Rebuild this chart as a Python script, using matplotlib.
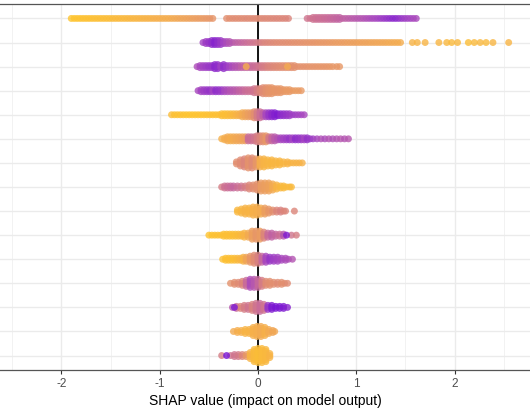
import matplotlib
matplotlib.use("Agg")
import matplotlib.pyplot as plt
import numpy as np
from matplotlib.colors import LinearSegmentedColormap

# one tuple per point group: (SHAP value, scaled feature value 0=low..1=high, overlapping points)
row_01 = [(-1.90, 0.02, 1), (-1.87, 0.02, 1), (-1.84, 0.03, 1), (-1.81, 0.03, 1), (-1.78, 0.04, 1),
          (-1.75, 0.04, 1), (-1.72, 0.05, 1), (-1.69, 0.05, 1), (-1.66, 0.06, 1), (-1.63, 0.06, 1),
          (-1.60, 0.07, 1), (-1.57, 0.07, 1), (-1.54, 0.08, 1), (-1.51, 0.08, 1), (-1.48, 0.09, 1),
          (-1.45, 0.10, 1), (-1.42, 0.10, 1), (-1.39, 0.11, 1), (-1.36, 0.11, 1), (-1.33, 0.12, 1),
          (-1.30, 0.13, 1), (-1.27, 0.13, 1), (-1.24, 0.14, 1), (-1.21, 0.15, 1), (-1.18, 0.15, 1),
          (-1.15, 0.16, 1), (-1.12, 0.17, 1), (-1.09, 0.17, 1), (-1.06, 0.18, 1), (-1.03, 0.19, 1),
          (-1.00, 0.19, 1), (-0.97, 0.20, 1), (-0.94, 0.21, 1), (-0.91, 0.21, 1), (-0.88, 0.22, 1),
          (-0.85, 0.23, 1), (-0.82, 0.24, 1), (-0.79, 0.25, 1), (-0.76, 0.26, 1), (-0.73, 0.27, 1),
          (-0.70, 0.28, 1), (-0.67, 0.29, 1), (-0.64, 0.30, 1), (-0.61, 0.31, 1), (-0.58, 0.32, 1),
          (-0.55, 0.33, 1), (-0.52, 0.34, 1), (-0.49, 0.35, 1), (-0.46, 0.36, 1),
          (-0.32, 0.40, 1), (-0.29, 0.40, 1), (-0.26, 0.41, 1), (-0.23, 0.42, 1), (-0.20, 0.41, 1),
          (-0.17, 0.42, 1), (-0.14, 0.42, 1), (-0.11, 0.43, 1), (-0.08, 0.42, 1), (-0.05, 0.43, 1),
          (-0.02, 0.43, 1), (0.01, 0.42, 1), (0.04, 0.43, 1), (0.07, 0.44, 1), (0.10, 0.43, 1),
          (0.13, 0.44, 1), (0.16, 0.44, 1), (0.19, 0.45, 1), (0.22, 0.44, 1), (0.25, 0.45, 1),
          (0.28, 0.45, 1), (0.31, 0.46, 1),
          (0.50, 0.55, 1), (0.53, 0.55, 1), (0.56, 0.56, 2), (0.59, 0.57, 2), (0.62, 0.58, 2),
          (0.65, 0.58, 2), (0.68, 0.59, 2), (0.71, 0.60, 2), (0.74, 0.61, 2), (0.77, 0.62, 2),
          (0.80, 0.63, 2), (0.83, 0.64, 2), (0.86, 0.65, 1), (0.89, 0.66, 1), (0.92, 0.67, 1),
          (0.95, 0.68, 1), (0.98, 0.69, 1), (1.01, 0.70, 1), (1.04, 0.71, 1), (1.07, 0.72, 1),
          (1.10, 0.74, 1), (1.13, 0.75, 1), (1.16, 0.77, 1), (1.19, 0.78, 1), (1.22, 0.80, 1),
          (1.25, 0.82, 1), (1.28, 0.84, 1), (1.31, 0.86, 1), (1.34, 0.88, 1), (1.37, 0.90, 1),
          (1.40, 0.91, 1), (1.43, 0.88, 1), (1.46, 0.85, 1), (1.49, 0.83, 1), (1.52, 0.81, 1),
          (1.55, 0.80, 1), (1.58, 0.78, 1), (1.61, 0.77, 1)]
row_02 = [(-0.56, 0.80, 1), (-0.53, 0.82, 2), (-0.50, 0.85, 2), (-0.47, 0.88, 3), (-0.44, 0.92, 3),
          (-0.41, 0.88, 3), (-0.38, 0.84, 3), (-0.35, 0.80, 2), (-0.32, 0.76, 2), (-0.29, 0.72, 2),
          (-0.26, 0.70, 1), (-0.23, 0.67, 1), (-0.20, 0.65, 1), (-0.17, 0.63, 1), (-0.14, 0.61, 1),
          (-0.11, 0.59, 1), (-0.08, 0.57, 1), (-0.05, 0.55, 1), (-0.02, 0.53, 1), (0.01, 0.50, 1),
          (0.04, 0.48, 1), (0.07, 0.46, 1), (0.10, 0.45, 1), (0.13, 0.44, 1), (0.16, 0.43, 1),
          (0.19, 0.42, 1), (0.22, 0.42, 1), (0.25, 0.41, 1), (0.28, 0.41, 1), (0.31, 0.40, 1),
          (0.34, 0.40, 1), (0.37, 0.39, 1), (0.40, 0.39, 1), (0.43, 0.38, 1), (0.46, 0.38, 1),
          (0.49, 0.37, 1), (0.52, 0.37, 1), (0.55, 0.36, 1), (0.58, 0.36, 1), (0.61, 0.35, 1),
          (0.64, 0.35, 1), (0.67, 0.34, 1), (0.70, 0.34, 1), (0.73, 0.33, 1), (0.76, 0.33, 1),
          (0.79, 0.32, 1), (0.82, 0.32, 1), (0.85, 0.31, 1), (0.88, 0.31, 1), (0.91, 0.30, 1),
          (0.94, 0.30, 1), (0.97, 0.29, 1), (1.00, 0.29, 1), (1.03, 0.28, 1), (1.06, 0.28, 1),
          (1.09, 0.27, 1), (1.12, 0.27, 1), (1.15, 0.26, 1), (1.18, 0.26, 1), (1.21, 0.25, 1),
          (1.24, 0.25, 1), (1.27, 0.24, 1), (1.30, 0.24, 1), (1.33, 0.23, 1), (1.36, 0.23, 1),
          (1.39, 0.22, 1), (1.42, 0.22, 1), (1.45, 0.21, 1),
          (1.57, 0.16, 1), (1.62, 0.15, 1), (1.70, 0.15, 1), (1.84, 0.14, 1), (1.92, 0.12, 1),
          (1.97, 0.10, 1), (2.03, 0.12, 1), (2.14, 0.08, 1), (2.20, 0.10, 1), (2.26, 0.12, 1),
          (2.32, 0.10, 1), (2.39, 0.14, 1), (2.55, 0.15, 1)]
row_03 = [(-0.62, 0.75, 1), (-0.59, 0.78, 2), (-0.56, 0.80, 2), (-0.53, 0.82, 2), (-0.50, 0.84, 2),
          (-0.47, 0.85, 2), (-0.44, 0.90, 3), (-0.41, 0.88, 3), (-0.38, 0.82, 2), (-0.35, 0.88, 3),
          (-0.32, 0.84, 2), (-0.29, 0.80, 2), (-0.26, 0.76, 2), (-0.23, 0.72, 2), (-0.20, 0.70, 2),
          (-0.17, 0.66, 2), (-0.14, 0.64, 2), (-0.11, 0.62, 2), (-0.08, 0.62, 2), (-0.05, 0.60, 2),
          (-0.02, 0.58, 2), (0.01, 0.55, 2), (0.04, 0.52, 2), (0.07, 0.50, 2), (0.10, 0.47, 2),
          (0.13, 0.46, 2), (0.16, 0.44, 2), (0.19, 0.43, 2), (0.22, 0.42, 2), (0.25, 0.41, 2),
          (0.28, 0.40, 2), (0.31, 0.40, 2), (0.34, 0.40, 2), (0.37, 0.39, 2), (0.40, 0.39, 1),
          (0.43, 0.38, 1), (0.46, 0.38, 1), (0.49, 0.38, 1), (0.52, 0.37, 1), (0.55, 0.37, 1),
          (0.58, 0.37, 1), (0.61, 0.36, 1), (0.64, 0.36, 1), (0.67, 0.36, 1), (0.70, 0.36, 1),
          (0.73, 0.35, 1), (0.76, 0.35, 1), (0.80, 0.35, 1), (0.83, 0.34, 1),
          (-0.12, 0.20, 1), (0.30, 0.22, 1)]
row_04 = [(-0.61, 0.78, 1), (-0.58, 0.80, 2), (-0.55, 0.82, 2), (-0.52, 0.84, 2), (-0.49, 0.86, 2),
          (-0.46, 0.80, 2), (-0.43, 0.88, 2), (-0.40, 0.86, 2), (-0.37, 0.84, 2), (-0.34, 0.78, 2),
          (-0.31, 0.75, 2), (-0.28, 0.72, 2), (-0.25, 0.70, 2), (-0.22, 0.68, 2), (-0.19, 0.65, 2),
          (-0.16, 0.63, 2), (-0.13, 0.60, 2), (-0.10, 0.58, 2), (-0.07, 0.57, 2), (-0.04, 0.55, 3),
          (-0.01, 0.50, 3), (0.02, 0.46, 3), (0.05, 0.42, 4), (0.08, 0.39, 4), (0.11, 0.37, 4),
          (0.14, 0.36, 4), (0.17, 0.35, 3), (0.20, 0.36, 3), (0.23, 0.35, 3), (0.26, 0.34, 2),
          (0.29, 0.33, 2), (0.32, 0.33, 2), (0.35, 0.33, 1), (0.38, 0.32, 1), (0.41, 0.32, 1),
          (0.44, 0.33, 1)]
row_05 = [(-0.88, 0.08, 1), (-0.85, 0.05, 1), (-0.82, 0.04, 1), (-0.79, 0.04, 1), (-0.76, 0.03, 1),
          (-0.73, 0.02, 1), (-0.70, 0.02, 1), (-0.67, 0.02, 1), (-0.64, 0.02, 1), (-0.61, 0.03, 1),
          (-0.58, 0.03, 1), (-0.55, 0.03, 1), (-0.52, 0.04, 1), (-0.49, 0.04, 1), (-0.46, 0.05, 1),
          (-0.43, 0.05, 1), (-0.40, 0.06, 1), (-0.37, 0.07, 2), (-0.34, 0.07, 2), (-0.31, 0.08, 2),
          (-0.28, 0.10, 2), (-0.25, 0.12, 2), (-0.22, 0.15, 2), (-0.19, 0.18, 2), (-0.16, 0.22, 3),
          (-0.13, 0.26, 3), (-0.10, 0.30, 3), (-0.07, 0.33, 3), (-0.04, 0.40, 4), (-0.01, 0.50, 4),
          (0.02, 0.58, 4), (0.05, 0.65, 3), (0.08, 0.78, 3), (0.11, 0.85, 3), (0.14, 0.90, 3),
          (0.17, 0.93, 3), (0.20, 0.95, 2), (0.23, 0.90, 2), (0.26, 0.88, 2), (0.29, 0.86, 2),
          (0.32, 0.84, 2), (0.35, 0.82, 1), (0.38, 0.82, 1), (0.41, 0.80, 1), (0.44, 0.80, 1),
          (0.47, 0.78, 1)]
row_06 = [(-0.37, 0.18, 1), (-0.34, 0.20, 2), (-0.31, 0.22, 3), (-0.28, 0.20, 3), (-0.25, 0.22, 3),
          (-0.22, 0.24, 3), (-0.19, 0.25, 3), (-0.16, 0.27, 3), (-0.13, 0.30, 3), (-0.10, 0.60, 3),
          (-0.07, 0.58, 3), (-0.04, 0.55, 3), (-0.01, 0.50, 4), (0.02, 0.46, 4), (0.05, 0.40, 4),
          (0.08, 0.35, 4), (0.11, 0.52, 3), (0.14, 0.62, 3), (0.17, 0.68, 3), (0.20, 0.72, 2),
          (0.23, 0.78, 2), (0.26, 0.80, 2), (0.29, 0.82, 2), (0.32, 0.85, 2), (0.35, 0.80, 2),
          (0.38, 0.88, 2), (0.41, 0.86, 2), (0.44, 0.84, 2), (0.47, 0.80, 2), (0.50, 0.86, 2),
          (0.53, 0.84, 1), (0.56, 0.82, 1), (0.60, 0.78, 1), (0.64, 0.74, 1), (0.68, 0.76, 1),
          (0.72, 0.72, 1), (0.76, 0.74, 1), (0.80, 0.72, 1), (0.84, 0.70, 1), (0.88, 0.72, 1),
          (0.92, 0.70, 1)]
row_07 = [(-0.22, 0.40, 2), (-0.18, 0.42, 4), (-0.14, 0.45, 5), (-0.10, 0.38, 6), (-0.06, 0.42, 6),
          (-0.02, 0.35, 5), (0.02, 0.20, 5), (0.06, 0.15, 5), (0.10, 0.14, 4), (0.14, 0.13, 4),
          (0.18, 0.14, 3), (0.22, 0.13, 3), (0.26, 0.14, 2), (0.30, 0.15, 2), (0.33, 0.15, 1),
          (0.36, 0.16, 1), (0.39, 0.16, 1), (0.42, 0.16, 1), (0.45, 0.17, 1)]
row_08 = [(-0.37, 0.50, 1), (-0.34, 0.56, 2), (-0.31, 0.58, 2), (-0.28, 0.60, 2), (-0.25, 0.62, 2),
          (-0.21, 0.58, 2), (-0.17, 0.55, 2), (-0.13, 0.50, 2), (-0.09, 0.45, 3), (-0.05, 0.40, 3),
          (-0.01, 0.38, 4), (0.03, 0.32, 5), (0.07, 0.30, 5), (0.11, 0.28, 5), (0.15, 0.22, 4),
          (0.19, 0.15, 3), (0.23, 0.12, 2), (0.26, 0.10, 2), (0.29, 0.10, 1), (0.32, 0.10, 1),
          (0.34, 0.10, 1)]
row_09 = [(-0.21, 0.12, 2), (-0.17, 0.14, 3), (-0.13, 0.16, 4), (-0.09, 0.15, 4), (-0.05, 0.18, 5),
          (-0.01, 0.20, 5), (0.03, 0.22, 4), (0.07, 0.30, 4), (0.11, 0.35, 3), (0.15, 0.40, 2),
          (0.19, 0.45, 2), (0.23, 0.48, 2), (0.26, 0.45, 1), (0.28, 0.45, 1), (0.37, 0.45, 1)]
row_10 = [(-0.50, 0.03, 1), (-0.47, 0.03, 1), (-0.44, 0.04, 1), (-0.41, 0.04, 1), (-0.38, 0.05, 1),
          (-0.35, 0.05, 2), (-0.32, 0.06, 2), (-0.29, 0.06, 2), (-0.26, 0.07, 2), (-0.23, 0.08, 2),
          (-0.20, 0.09, 2), (-0.17, 0.12, 2), (-0.14, 0.15, 3), (-0.10, 0.22, 3), (-0.06, 0.30, 5),
          (-0.02, 0.35, 5), (0.02, 0.32, 5), (0.06, 0.45, 4), (0.10, 0.60, 3), (0.14, 0.65, 3),
          (0.18, 0.62, 2), (0.22, 0.58, 2), (0.26, 0.70, 2), (0.34, 0.55, 1), (0.39, 0.50, 1),
          (0.29, 0.95, 1)]
row_11 = [(-0.36, 0.05, 1), (-0.33, 0.05, 2), (-0.30, 0.06, 2), (-0.27, 0.06, 2), (-0.24, 0.07, 2),
          (-0.21, 0.10, 2), (-0.18, 0.13, 2), (-0.15, 0.16, 3), (-0.12, 0.25, 3), (-0.08, 0.35, 4),
          (-0.04, 0.42, 5), (0.00, 0.48, 5), (0.04, 0.62, 4), (0.08, 0.78, 4), (0.12, 0.85, 3),
          (0.16, 0.82, 3), (0.20, 0.80, 3), (0.24, 0.78, 2), (0.28, 0.76, 2), (0.31, 0.75, 1),
          (0.35, 0.72, 1)]
row_12 = [(-0.28, 0.38, 1), (-0.24, 0.40, 2), (-0.20, 0.42, 2), (-0.16, 0.45, 3), (-0.12, 0.60, 4),
          (-0.08, 0.75, 5), (-0.04, 0.70, 5), (0.00, 0.62, 5), (0.04, 0.50, 4), (0.08, 0.42, 3),
          (0.12, 0.40, 3), (0.16, 0.40, 2), (0.20, 0.42, 2), (0.24, 0.40, 2), (0.27, 0.40, 1),
          (0.30, 0.42, 1)]
row_13 = [(-0.26, 0.70, 1), (-0.22, 0.60, 2), (-0.18, 0.45, 2), (-0.14, 0.50, 3), (-0.10, 0.55, 3),
          (-0.06, 0.48, 4), (-0.02, 0.55, 5), (0.02, 0.60, 5), (0.06, 0.55, 4), (0.10, 0.85, 3),
          (0.14, 0.95, 3), (0.18, 0.98, 2), (0.22, 0.97, 2), (0.26, 0.95, 2), (0.30, 0.92, 1),
          (-0.24, 0.95, 1)]
row_14 = [(-0.25, 0.22, 1), (-0.21, 0.20, 2), (-0.17, 0.18, 2), (-0.13, 0.15, 3), (-0.09, 0.16, 3),
          (-0.05, 0.18, 5), (-0.01, 0.20, 6), (0.03, 0.22, 6), (0.07, 0.18, 5), (0.11, 0.22, 3),
          (0.15, 0.25, 2), (0.17, 0.24, 1)]
row_15 = [(-0.37, 0.50, 1), (-0.28, 0.55, 1), (-0.24, 0.55, 2), (-0.20, 0.52, 2), (-0.16, 0.45, 2),
          (-0.12, 0.35, 2), (-0.08, 0.15, 4), (-0.04, 0.10, 7), (0.00, 0.08, 8), (0.04, 0.10, 8),
          (0.08, 0.12, 7), (0.12, 0.15, 3), (-0.32, 0.98, 1)]

rows = [row_01, row_02, row_03, row_04, row_05, row_06, row_07, row_08,
        row_09, row_10, row_11, row_12, row_13, row_14, row_15]

x_ticks = [-2, -1, 0, 1, 2]
x_tick_labels = ["-2", "-1", "0", "1", "2"]

plt.rcParams['font.family'] = ['Liberation Sans', 'DejaVu Sans']

cmap = LinearSegmentedColormap.from_list(
    "shap", [(0.0, "#FFC62A"), (0.2, "#F5AE4E"), (0.4, "#E28F70"),
             (0.6, "#C96C99"), (0.8, "#A444C2"), (1.0, "#7410D6")])


def sina_offsets(n, step=0.042, cap=0.4):
    """vertical spread for n overlapping points, wider where the data is denser"""
    if n <= 1:
        return np.zeros(1)
    w = min(cap, step * (n - 1))
    return np.linspace(-w, w, n)


xs, ys, cs = [], [], []
for k, row in enumerate(rows):
    y0 = len(rows) - k
    for x, c, n in row:
        for off in sina_offsets(n):
            xs.append(x)
            ys.append(y0 + off)
            cs.append(c)

fig = plt.figure(figsize=(5.3, 4.16), dpi=100)
ax = fig.add_axes([0, 0.1106, 1, 0.8798])

ax.axvline(0, color='black', lw=1.3, zorder=2)
ax.scatter(xs, ys, c=cs, cmap=cmap, vmin=0, vmax=1, s=25, alpha=0.8,
           linewidths=0, zorder=3)

ax.set_xlim(-2.625, 2.767)
ax.set_ylim(0.4, 15.6)
ax.set_xticks(x_ticks)
ax.set_xticklabels(x_tick_labels)
ax.set_xticks([-2.5, -1.5, -0.5, 0.5, 1.5, 2.5], minor=True)
ax.set_yticks(range(1, 16))
ax.set_yticklabels([])
ax.tick_params(axis='y', length=0)
ax.tick_params(axis='x', which='major', length=3, color='#333333',
               labelcolor='#4D4D4D', labelsize=8.5, pad=3)
ax.tick_params(axis='x', which='minor', length=0)
ax.grid(which='major', color='#EBEBEB', lw=1.0, zorder=0)
ax.grid(which='minor', axis='x', color='#F0F0F0', lw=0.6, zorder=0)
ax.set_axisbelow(True)

for side in ['left', 'right']:
    ax.spines[side].set_visible(False)
for side in ['top', 'bottom']:
    ax.spines[side].set_color('#555555')
    ax.spines[side].set_linewidth(0.9)

ax.set_xlabel('SHAP value (impact on model output)', fontsize=10, labelpad=3)

fig.savefig('out.png', dpi=100)
